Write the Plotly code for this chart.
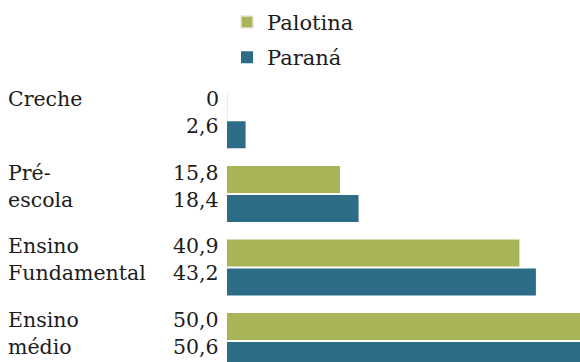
import plotly.graph_objects as go

# Education levels and shares (%) for Palotina and Paraná
categories = ["Creche", "Pré-escola", "Ensino Fundamental", "Ensino médio"]
label_lines = [["Creche", ""], ["Pré-", "escola"], ["Ensino", "Fundamental"], ["Ensino", "médio"]]
palotina = [0.0, 15.8, 40.9, 50.0]
parana = [2.6, 18.4, 43.2, 50.6]

series = [("Palotina", palotina, "#a9b458"), ("Paraná", parana, "#2c6c86")]

FONT = "DejaVu Serif"
TEXT_COLOR = "#1c1c1c"
SIZE = 20.5


def fmt(v):
    return "0" if v == 0 else f"{v:.1f}".replace(".", ",")


fig = go.Figure()
for i, (name, vals, color) in enumerate(series):
    fig.add_trace(go.Bar(
        name=name,
        y=categories,
        x=vals,
        orientation="h",
        marker=dict(
            color=color,
            line=dict(
                color=["#e9e6d6" if v == 0 else color for v in vals],
                width=[1.5 if v == 0 else 0 for v in vals],
            ),
        ),
        legendgroup=name,
        hoverinfo="skip",
    ))

annotations = []
shifts = [21, -6]  # first series row above group centre, second below
for ci, cat in enumerate(categories):
    # value labels, right-aligned just left of the bars
    for si, (name, vals, color) in enumerate(series):
        annotations.append(dict(
            x=0, y=cat, xref="x", yref="y", text=fmt(vals[ci]),
            showarrow=False, xanchor="right", yanchor="middle",
            xshift=-6, yshift=shifts[si],
            font=dict(family=FONT, size=SIZE, color=TEXT_COLOR),
        ))
    # category names, one line per bar row
    for li, line in enumerate(label_lines[ci]):
        if not line:
            continue
        annotations.append(dict(
            x=0, y=cat, xref="x", yref="y", text=line,
            showarrow=False, xanchor="left", yanchor="middle",
            xshift=-221, yshift=shifts[li],
            font=dict(family=FONT, size=SIZE, color=TEXT_COLOR),
        ))

fig.update_layout(
    width=580,
    height=362,
    margin=dict(l=227, r=0, t=0, b=0),
    paper_bgcolor="white",
    plot_bgcolor="white",
    barmode="group",
    bargap=0.212,
    bargroupgap=0.069,
    font=dict(family=FONT, size=SIZE, color=TEXT_COLOR),
    xaxis=dict(range=[0, 49.37], showgrid=False, zeroline=False,
               showticklabels=False, showline=False, fixedrange=True),
    yaxis=dict(categoryorder="array", categoryarray=categories,
               range=[3.284, -1.634], showgrid=False, zeroline=False,
               showticklabels=False, showline=False, fixedrange=True),
    showlegend=True,
    legend=dict(
        x=0.0, y=0.995, xanchor="left", yanchor="top",
        orientation="v", traceorder="grouped", tracegroupgap=5,
        bgcolor="rgba(0,0,0,0)",
        font=dict(family=FONT, size=21, color=TEXT_COLOR),
    ),
    annotations=annotations,
)

fig.write_html("out.html")
